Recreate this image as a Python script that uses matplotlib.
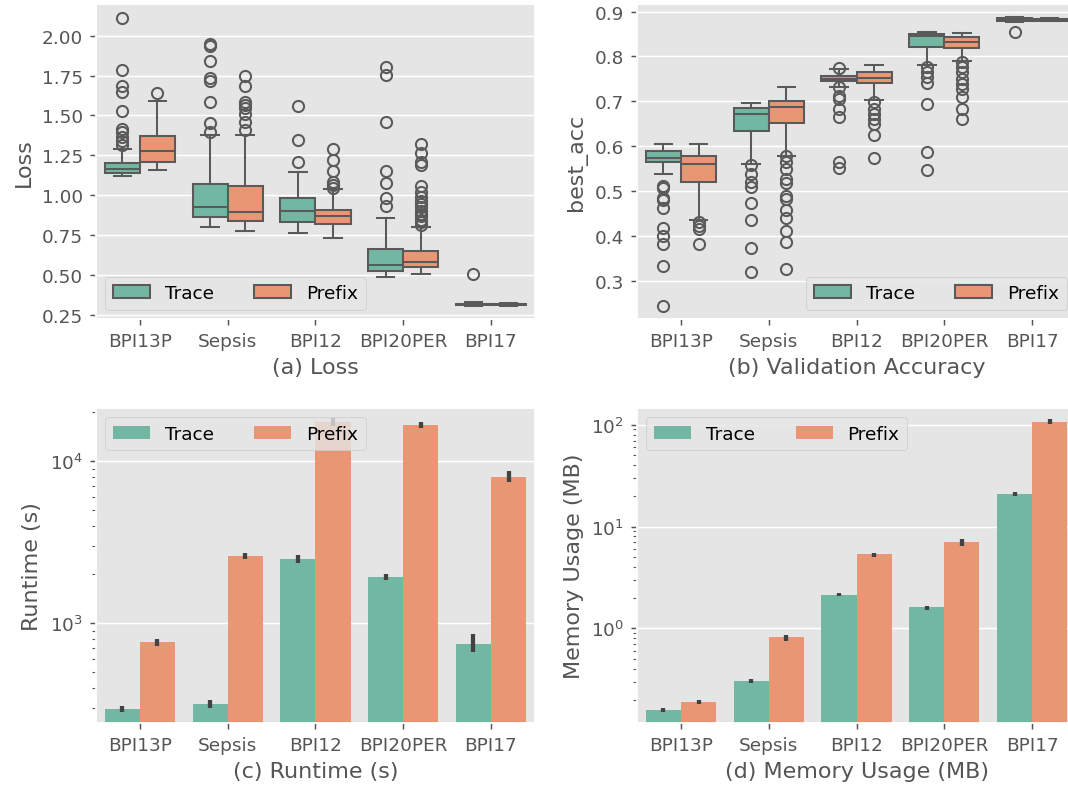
"""Trace vs Prefix encoding: loss, validation accuracy, runtime and memory."""

import matplotlib
matplotlib.use("Agg")
import matplotlib.pyplot as plt
import matplotlib.ticker as ticker
from matplotlib.patches import Patch
import numpy as np

datasets = ["BPI13P", "Sepsis", "BPI12", "BPI20PER", "BPI17"]
methods = ["Trace", "Prefix"]

# ---- (a) loss box stats: (whislo, q1, med, q3, whishi) per dataset
loss_trace = [
    (1.119, 1.142, 1.165, 1.202, 1.290),
    (0.803, 0.862, 0.929, 1.071, 1.378),
    (0.762, 0.835, 0.902, 0.981, 1.144),
    (0.490, 0.526, 0.562, 0.663, 0.856),
    (0.306, 0.313, 0.318, 0.322, 0.330),
]
loss_prefix = [
    (1.160, 1.211, 1.277, 1.371, 1.593),
    (0.776, 0.839, 0.893, 1.060, 1.380),
    (0.733, 0.820, 0.868, 0.910, 1.039),
    (0.507, 0.553, 0.584, 0.653, 0.801),
    (0.309, 0.313, 0.316, 0.320, 0.327),
]
loss_trace_fliers = [
    [2.111, 1.787, 1.687, 1.645, 1.530, 1.415, 1.394, 1.367, 1.342, 1.317],
    [1.948, 1.937, 1.841, 1.735, 1.718, 1.587, 1.453, 1.399],
    [1.557, 1.349, 1.211],
    [1.802, 1.754, 1.459, 1.150, 1.077, 0.981, 0.931],
    [0.507],
]
loss_prefix_fliers = [
    [1.639],
    [1.749, 1.687, 1.587, 1.566, 1.545, 1.509, 1.461, 1.411],
    [1.292, 1.219, 1.150, 1.085, 1.065, 1.046],
    [1.321, 1.264, 1.210, 1.190, 1.060, 1.018, 0.987, 0.966, 0.945,
     0.925, 0.903, 0.883, 0.868, 0.847, 0.830, 0.812],
    [],
]

# ---- (b) validation accuracy box stats
acc_trace = [
    (0.537, 0.565, 0.573, 0.590, 0.605),
    (0.560, 0.634, 0.671, 0.685, 0.697),
    (0.732, 0.746, 0.750, 0.757, 0.771),
    (0.781, 0.822, 0.845, 0.850, 0.854),
    (0.876, 0.880, 0.883, 0.885, 0.887),
]
acc_prefix = [
    (0.436, 0.521, 0.561, 0.579, 0.604),
    (0.579, 0.652, 0.687, 0.701, 0.732),
    (0.704, 0.740, 0.753, 0.766, 0.780),
    (0.789, 0.820, 0.832, 0.843, 0.853),
    (0.878, 0.880, 0.882, 0.884, 0.886),
]
acc_trace_fliers = [
    [0.512, 0.506, 0.484, 0.479, 0.462, 0.418, 0.400, 0.382, 0.333, 0.243],
    [0.557, 0.538, 0.520, 0.508, 0.473, 0.435, 0.372, 0.319],
    [0.774, 0.733, 0.713, 0.705, 0.683, 0.664, 0.565, 0.551],
    [0.776, 0.765, 0.754, 0.742, 0.694, 0.586, 0.547],
    [0.855],
]
acc_prefix_fliers = [
    [0.432, 0.423, 0.415, 0.382],
    [0.579, 0.564, 0.549, 0.527, 0.519, 0.490, 0.482, 0.458, 0.439,
     0.412, 0.387, 0.327],
    [0.698, 0.683, 0.672, 0.661, 0.649, 0.625, 0.573],
    [0.787, 0.776, 0.765, 0.750, 0.739, 0.728, 0.709, 0.683, 0.661],
    [],
]

# ---- (c) runtime (s): mean, CI low, CI high
runtime_trace = [296, 318, 2490, 1928, 745]
runtime_trace_lo = [285, 302, 2353, 1848, 663]
runtime_trace_hi = [310, 338, 2650, 2004, 859]
runtime_prefix = [764, 2600, 17500, 16680, 7960]
runtime_prefix_lo = [728, 2490, 16500, 15970, 7394]
runtime_prefix_hi = [800, 2712, 18320, 17300, 8680]

# ---- (d) memory usage (MB)
memory_trace = [0.158, 0.304, 2.15, 1.61, 20.9]
memory_trace_lo = [0.152, 0.293, 2.06, 1.535, 20.0]
memory_trace_hi = [0.164, 0.316, 2.23, 1.67, 21.7]
memory_prefix = [0.19, 0.82, 5.35, 7.0, 106]
memory_prefix_lo = [0.181, 0.756, 5.03, 6.45, 102]
memory_prefix_hi = [0.198, 0.866, 5.56, 7.51, 113]

C_TRACE = "#71b7a1"
C_PREFIX = "#e99675"
LINE = "#5a5a5a"
ERR = "#424242"
LW = 1.1


def box_stats(stats, fliers):
    out = []
    for (lo, q1, med, q3, hi), fl in zip(stats, fliers):
        out.append(dict(whislo=lo, q1=q1, med=med, q3=q3, whishi=hi,
                        fliers=fl))
    return out


def draw_boxes(ax, stats_t, fl_t, stats_p, fl_p, loc):
    x = np.arange(len(datasets))
    for stats, fl, off, col in [(stats_t, fl_t, -0.2, C_TRACE),
                                (stats_p, fl_p, 0.2, C_PREFIX)]:
        ax.bxp(box_stats(stats, fl), positions=x + off, widths=0.4,
               patch_artist=True, manage_ticks=False,
               boxprops=dict(facecolor=col, edgecolor=LINE, linewidth=LW),
               medianprops=dict(color=LINE, linewidth=LW),
               whiskerprops=dict(color=LINE, linewidth=LW),
               capprops=dict(color=LINE, linewidth=LW),
               flierprops=dict(marker="o", markerfacecolor="none",
                               markeredgecolor=LINE, markersize=6,
                               markeredgewidth=LW))
    handles = [Patch(facecolor=C_TRACE, edgecolor=LINE, linewidth=LW),
               Patch(facecolor=C_PREFIX, edgecolor=LINE, linewidth=LW)]
    ax.legend(handles, methods, loc=loc, ncol=2, columnspacing=2.2)


def draw_bars(ax, tr, tr_lo, tr_hi, pr, pr_lo, pr_hi):
    x = np.arange(len(datasets))
    ax.bar(x - 0.2, tr, width=0.4, color=C_TRACE, edgecolor="none",
           label=methods[0])
    ax.bar(x + 0.2, pr, width=0.4, color=C_PREFIX, edgecolor="none",
           label=methods[1])
    ax.vlines(x - 0.2, tr_lo, tr_hi, color=ERR, linewidth=2.3)
    ax.vlines(x + 0.2, pr_lo, pr_hi, color=ERR, linewidth=2.3)
    ax.set_yscale("log")
    ax.legend(loc="upper left", ncol=2, columnspacing=2.2)


def style_axis(ax, xlabel, ylabel):
    ax.set_xticks(np.arange(len(datasets)))
    ax.set_xticklabels(datasets)
    ax.set_xlim(-0.5, 4.5)
    ax.set_xlabel(xlabel)
    ax.set_ylabel(ylabel)
    ax.grid(False, axis="x")


def main():
    plt.style.use("ggplot")
    plt.rcParams["font.family"] = ["DejaVu Sans"]

    # rendered at ~133 dpi so the 10pt ggplot defaults keep their look
    fig, axes = plt.subplots(2, 2, figsize=(8.0, 5.925), dpi=133.5)
    fig.subplots_adjust(left=0.0899, right=1.0075, bottom=0.0847,
                        top=0.9937, wspace=0.233, hspace=0.2825)
    ax_a, ax_b = axes[0]
    ax_c, ax_d = axes[1]

    draw_boxes(ax_a, loss_trace, loss_trace_fliers,
               loss_prefix, loss_prefix_fliers, "lower left")
    style_axis(ax_a, "(a) Loss", "Loss")
    ax_a.set_ylim(0.225, 2.198)
    ax_a.yaxis.set_major_locator(ticker.MultipleLocator(0.25))
    ax_a.yaxis.set_major_formatter(ticker.FormatStrFormatter("%.2f"))

    draw_boxes(ax_b, acc_trace, acc_trace_fliers,
               acc_prefix, acc_prefix_fliers, "lower right")
    style_axis(ax_b, "(b) Validation Accuracy", "best_acc")
    ax_b.set_ylim(0.2148, 0.917)
    ax_b.yaxis.set_major_locator(ticker.MultipleLocator(0.1))
    ax_b.yaxis.set_major_formatter(ticker.FormatStrFormatter("%.1f"))

    draw_bars(ax_c, runtime_trace, runtime_trace_lo, runtime_trace_hi,
              runtime_prefix, runtime_prefix_lo, runtime_prefix_hi)
    style_axis(ax_c, "(c) Runtime (s)", "Runtime (s)")
    ax_c.set_ylim(243, 21250)

    draw_bars(ax_d, memory_trace, memory_trace_lo, memory_trace_hi,
              memory_prefix, memory_prefix_lo, memory_prefix_hi)
    style_axis(ax_d, "(d) Memory Usage (MB)", "Memory Usage (MB)")
    ax_d.set_ylim(0.118, 146)

    fig.savefig("out.png", dpi=133.5)


if __name__ == "__main__":
    main()
